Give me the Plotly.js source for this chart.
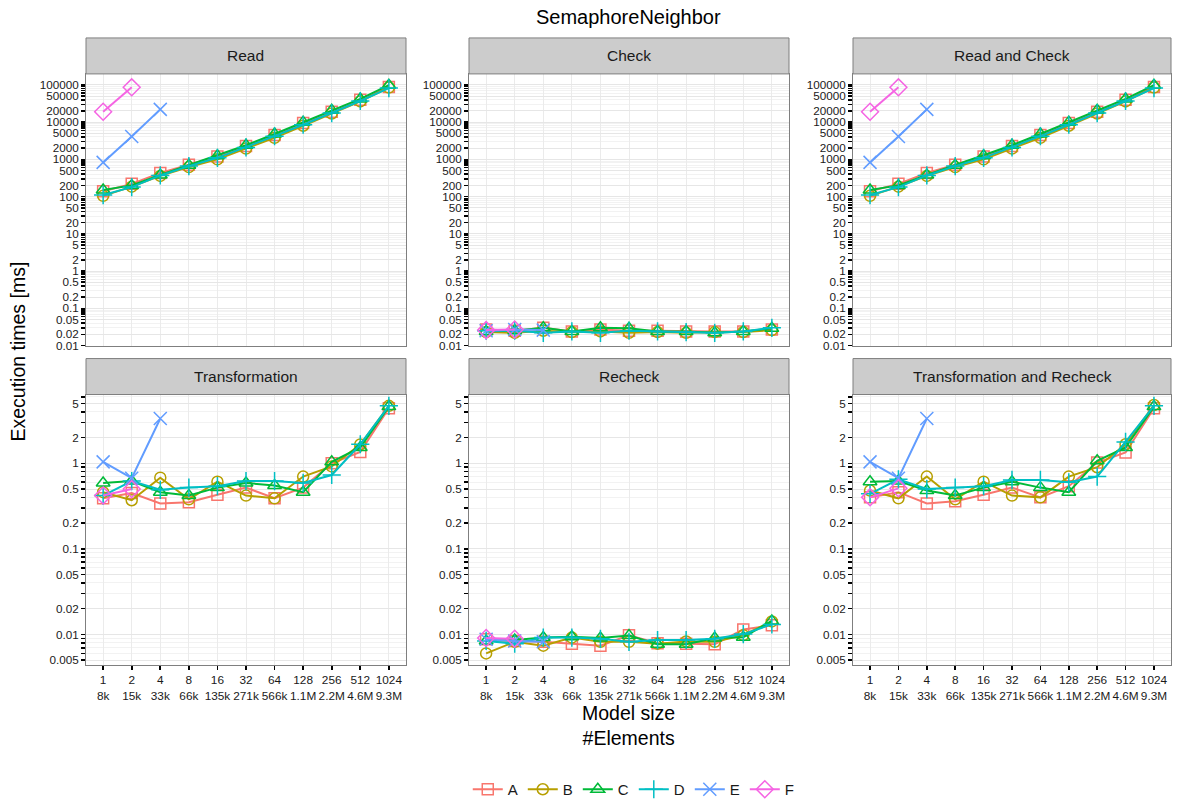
<!DOCTYPE html>
<html>
<head>
<meta charset="utf-8">
<script src="https://cdn.plot.ly/plotly-3.0.1.min.js"></script>
<style>html,body{margin:0;padding:0;background:#fff;}#chart{width:1178px;height:806px;}</style>
</head>
<body>
<div id="chart"></div>
<script>
// ---------- data ----------
const sizes = ["1","2","4","8","16","32","64","128","256","512","1024"];
const elements = ["8k","15k","33k","66k","135k","271k","566k","1.1M","2.2M","4.6M","9.3M"];
const seriesNames = ["A","B","C","D","E","F"];
const panelTitles = ["Read","Check","Read and Check","Transformation","Recheck","Transformation and Recheck"];

// Read
const readA = [140, 220, 430, 720, 1200, 2300, 4500, 9500, 19000, 40000, 88000];
const readB = [105, 185, 360, 620, 1000, 1950, 3800, 8000, 17000, 36000, 85000];
const readC = [150, 200, 380, 700, 1250, 2400, 4800, 10000, 21000, 42000, 98000];
const readD = [110, 180, 370, 660, 1100, 2100, 4200, 8500, 17500, 37000, 82000];
const readE = [830, 4100, 22000];
const readF = [19000, 86000];

// Check
const checkA = [0.027, 0.025, 0.030, 0.024, 0.027, 0.025, 0.025, 0.024, 0.024, 0.024, 0.027];
const checkB = [0.023, 0.022, 0.025, 0.023, 0.024, 0.022, 0.023, 0.022, 0.023, 0.023, 0.026];
const checkC = [0.024, 0.025, 0.030, 0.024, 0.030, 0.029, 0.024, 0.024, 0.022, 0.024, 0.029];
const checkD = [0.025, 0.025, 0.022, 0.024, 0.022, 0.025, 0.024, 0.023, 0.022, 0.024, 0.030];
const checkE = [0.025, 0.027, 0.026];
const checkF = [0.026, 0.027];

// Read and Check
const rcA = [140, 220, 430, 720, 1200, 2300, 4500, 9500, 19000, 40000, 88000];
const rcB = [105, 185, 360, 620, 1000, 1950, 3800, 8000, 17000, 36000, 85000];
const rcC = [150, 200, 380, 700, 1250, 2400, 4800, 10000, 21000, 42000, 98000];
const rcD = [110, 180, 370, 660, 1100, 2100, 4200, 8500, 17500, 37000, 82000];
const rcE = [830, 4100, 22000];
const rcF = [19000, 86000];

// Transformation
const trA = [0.39, 0.45, 0.34, 0.35, 0.43, 0.52, 0.39, 0.52, 1.00, 1.36, 4.4];
const trB = [0.46, 0.37, 0.68, 0.38, 0.61, 0.42, 0.39, 0.70, 0.92, 1.66, 4.7];
const trC = [0.59, 0.62, 0.46, 0.42, 0.52, 0.59, 0.55, 0.46, 1.04, 1.53, 4.6];
const trD = [0.42, 0.62, 0.49, 0.52, 0.54, 0.62, 0.62, 0.59, 0.73, 1.67, 4.7];
const trE = [1.04, 0.67, 3.34];
const trF = [0.42, 0.50];

// Recheck
const reA = [0.0088, 0.0084, 0.0082, 0.0078, 0.0074, 0.0098, 0.0079, 0.0078, 0.0077, 0.0114, 0.0128];
const reB = [0.0060, 0.0082, 0.0074, 0.0092, 0.0082, 0.0082, 0.0078, 0.0083, 0.0082, 0.0098, 0.0142];
const reC = [0.0084, 0.0086, 0.0092, 0.0094, 0.0091, 0.0097, 0.0077, 0.0077, 0.0091, 0.0093, 0.0144];
const reD = [0.0084, 0.0078, 0.0092, 0.0092, 0.0089, 0.0082, 0.0086, 0.0086, 0.0089, 0.0101, 0.0131];
const reE = [0.0088, 0.0084, 0.0082];
const reF = [0.0091, 0.0089];

// Transformation and Recheck
const trrA = [0.40, 0.46, 0.34, 0.36, 0.43, 0.52, 0.40, 0.54, 1.02, 1.34, 4.4];
const trrB = [0.48, 0.39, 0.70, 0.38, 0.61, 0.42, 0.40, 0.70, 0.90, 1.67, 4.8];
const trrC = [0.61, 0.62, 0.48, 0.42, 0.52, 0.61, 0.52, 0.46, 1.07, 1.53, 4.6];
const trrD = [0.44, 0.65, 0.50, 0.52, 0.54, 0.64, 0.64, 0.60, 0.70, 1.78, 4.7];
const trrE = [1.04, 0.67, 3.34];
const trrF = [0.40, 0.51];

const panelData = [
  [readA, readB, readC, readD, readE, readF],
  [checkA, checkB, checkC, checkD, checkE, checkF],
  [rcA, rcB, rcC, rcD, rcE, rcF],
  [trA, trB, trC, trD, trE, trF],
  [reA, reB, reC, reD, reE, reF],
  [trrA, trrB, trrC, trrD, trrE, trrF]
];

// top row tick labels / bottom row tick labels
const topMajor = [0.01,0.02,0.05,0.1,0.2,0.5,1,2,5,10,20,50,100,200,500,1000,2000,5000,10000,20000,50000,100000];
const topMajorText = ["0.01","0.02","0.05","0.1","0.2","0.5","1","2","5","10","20","50","100","200","500","1000","2000","5000","10000","20000","50000","100000"];
const botMajor = [0.005,0.01,0.02,0.05,0.1,0.2,0.5,1,2,5];
const botMajorText = ["0.005","0.01","0.02","0.05","0.1","0.2","0.5","1","2","5"];
const minorMult = [3,4,6,7,8,9];

// ---------- styling ----------
const colors = ["#F8766D","#B79F00","#00BA38","#00BFC4","#619CFF","#F564E3"];
const symbols = ["square-open","circle-open","triangle-up-open","cross-thin-open","x-thin-open","diamond-open"];
const msize = [11, 11, 12, 13, 13, 13];
const FONT = "Liberation Sans, Arial, Helvetica, sans-serif";

const W = 1178, H = 806;
const colPx = [[86,406],[469,789],[853,1171]];
const rowPx = [[74,346],[395,666]]; // panel top/bottom
const stripH = 36;

function minorVals(kmin, kmax){
  const out = [];
  for (let k = kmin; k <= kmax; k++) minorMult.forEach(m => out.push(+(m*Math.pow(10,k)).toPrecision(6)));
  return out;
}

const layout = {
  width: W, height: H,
  margin: {l:0, r:0, t:0, b:0},
  paper_bgcolor: "#fff", plot_bgcolor: "#fff",
  font: {family: FONT, color: "#1a1a1a"},
  showlegend: true,
  legend: {orientation: "h", x: 0.538, xanchor: "center", y: 1 - 790/H, yanchor: "middle",
           font: {size: 15, family: FONT, color: "#1a1a1a"}, bgcolor: "rgba(0,0,0,0)", itemwidth: 30},
  shapes: [], annotations: []
};

const traces = [];
for (let p = 0; p < 6; p++) {
  const row = Math.floor(p/3), col = p % 3;
  const idx = p + 1;
  const xa = "xaxis" + (idx === 1 ? "" : idx), ya = "yaxis" + (idx === 1 ? "" : idx);
  const xr = "x" + (idx === 1 ? "" : idx), yr = "y" + (idx === 1 ? "" : idx);
  const xd = [colPx[col][0]/W, colPx[col][1]/W];
  const yd = [1 - rowPx[row][1]/H, 1 - rowPx[row][0]/H];
  const bottom = row === 1;
  layout[xa] = {
    domain: xd, anchor: yr, type: "category", categoryorder: "array", categoryarray: sizes,
    range: [-0.6, 10.6], tickmode: "array", tickvals: sizes,
    ticktext: sizes.map((s,i) => s + "<br>" + elements[i]), tickangle: 0,
    showticklabels: bottom, ticks: bottom ? "outside" : "", ticklen: 4, tickwidth: 1.6, tickcolor: "#000",
    tickfont: {size: 11.8, family: FONT, color: "#1a1a1a"},
    showgrid: true, gridcolor: "#EBEBEB", gridwidth: 1,
    showline: true, mirror: true, linecolor: "#7F7F7F", linewidth: 1, zeroline: false, fixedrange: true
  };
  const major = row === 0 ? topMajor : botMajor;
  const majorText = row === 0 ? topMajorText : botMajorText;
  const minor = row === 0 ? minorVals(-2, 4) : minorVals(-3, 0);
  layout[ya] = {
    domain: yd, anchor: xr, type: "log",
    range: row === 0 ? [-2.0, 5.295] : [-2.359, 0.804],
    tickmode: "array", tickvals: major, ticktext: majorText,
    ticks: "outside", ticklen: 4, tickwidth: 1.6, tickcolor: "#000",
    tickfont: {size: 11.7, family: FONT, color: "#1a1a1a"},
    showgrid: true, gridcolor: "#E6E6E6", gridwidth: 1,
    minor: {tickmode: "array", tickvals: minor, ticks: "outside", ticklen: 4, tickwidth: 1.6, tickcolor: "#000",
            showgrid: true, gridcolor: "#F2F2F2", gridwidth: 1},
    showline: true, mirror: true, linecolor: "#7F7F7F", linewidth: 1, zeroline: false, fixedrange: true
  };
  // strip
  const sTop = rowPx[row][0] - stripH;
  layout.shapes.push({type: "rect", xref: "paper", yref: "paper",
    x0: xd[0], x1: xd[1], y0: 1 - rowPx[row][0]/H, y1: 1 - sTop/H,
    fillcolor: "#CCCCCC", line: {color: "#7F7F7F", width: 1}, layer: "above"});
  layout.annotations.push({xref: "paper", yref: "paper", x: (xd[0]+xd[1])/2, y: 1 - (sTop + stripH/2)/H,
    text: panelTitles[p], showarrow: false, xanchor: "center", yanchor: "middle",
    font: {size: 15.5, family: FONT, color: "#1a1a1a"}});
  // series
  panelData[p].forEach((vals, s) => {
    traces.push({
      type: "scatter", mode: "lines+markers", name: seriesNames[s], legendgroup: seriesNames[s],
      showlegend: p === 0, xaxis: xr, yaxis: yr,
      x: sizes.slice(0, vals.length), y: vals,
      line: {color: colors[s], width: 2},
      marker: {symbol: symbols[s], size: msize[s], color: colors[s], line: {color: colors[s], width: 1.5}},
      cliponaxis: false, hoverinfo: "skip"
    });
  });
}

// titles
layout.annotations.push({xref: "paper", yref: "paper", x: 628.5/W, y: 1 - 17/H, text: "SemaphoreNeighbor",
  showarrow: false, xanchor: "center", yanchor: "middle", font: {size: 20, family: FONT, color: "#000"}});
layout.annotations.push({xref: "paper", yref: "paper", x: 628.5/W, y: 1 - 726.5/H, text: "Model size<br>#Elements",
  showarrow: false, xanchor: "center", yanchor: "middle", font: {size: 19.5, family: FONT, color: "#000"}});
layout.annotations.push({xref: "paper", yref: "paper", x: 18/W, y: 1 - 352/H, text: "Execution times [ms]",
  showarrow: false, xanchor: "center", yanchor: "middle", textangle: -90, font: {size: 19.5, family: FONT, color: "#000"}});

Plotly.newPlot("chart", traces, layout, {displayModeBar: false, staticPlot: true});
</script>
</body>
</html>
